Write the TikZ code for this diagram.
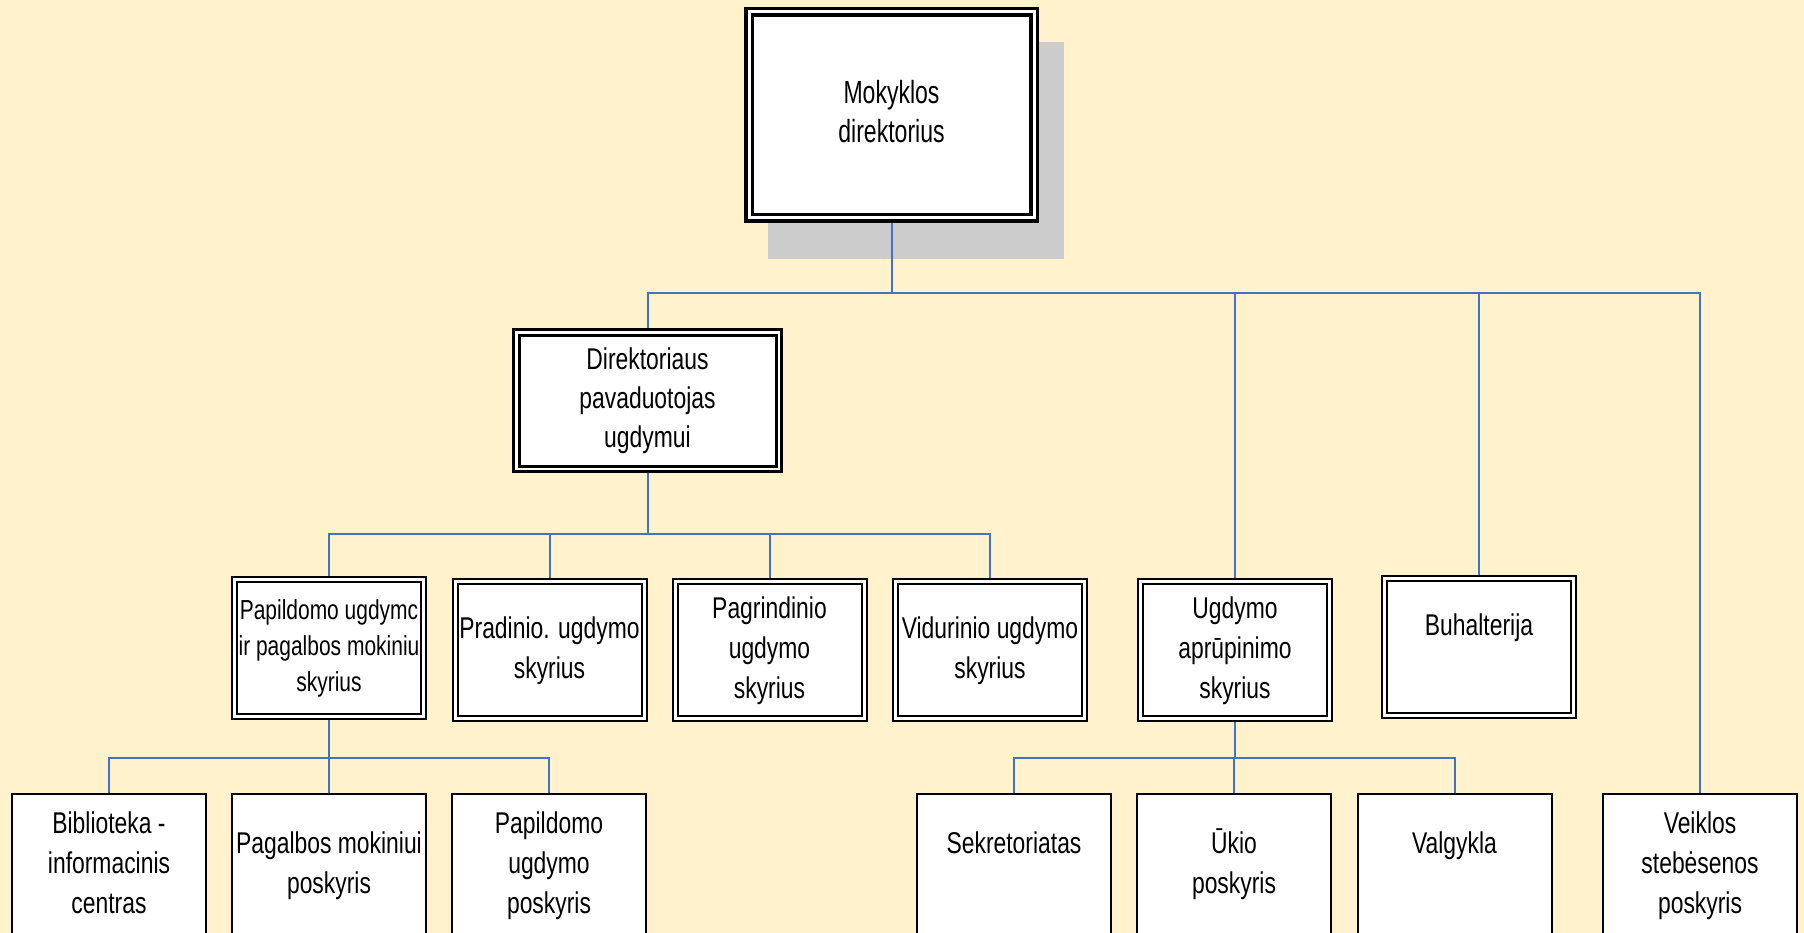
\documentclass[tikz,border=0pt]{standalone}
\usepackage{fontspec}
\setmainfont{Liberation Sans}[FakeStretch=0.763]
\newfontfamily\topfont{Liberation Sans}[FakeStretch=0.72]
\usetikzlibrary{backgrounds}
\definecolor{bgcol}{HTML}{FFF2CC}
\definecolor{shadowcol}{HTML}{CCCCCC}
\definecolor{conncol}{HTML}{4472C4}
\newcommand\boxlines[1]{\begin{tabular}{@{}c@{}}#1\end{tabular}}
\tikzset{
  orgbox/.style={draw=black, fill=white, inner sep=0pt, text=black},
  orgtop/.style={orgbox, line width=3.5pt, double=white, double distance=3pt,
    minimum width=285pt, minimum height=206pt, font=\topfont\fontsize{32}{39}\selectfont},
  orgsub/.style={orgbox, line width=3pt, double=white, double distance=2.5pt,
    minimum width=262.5pt, minimum height=136.5pt, font=\fontsize{30}{39}\selectfont},
  orgmid/.style={orgbox, line width=2pt, double=white, double distance=3pt,
    minimum width=189pt, minimum height=137pt, font=\fontsize{30}{40}\selectfont},
  orglow/.style={orgbox, line width=2pt,
    minimum width=194pt, minimum height=142pt, font=\fontsize{30}{40}\selectfont},
  conn/.style={draw=conncol, line width=2pt}
}
\begin{document}
\begin{tikzpicture}[x=1pt,y=-1pt]
\useasboundingbox (0,0) rectangle (1804,933);
\clip (0,0) rectangle (1804,933);

% top levels
\node[orgtop] (dir) at (891.5,115) {\boxlines{Mokyklos\\direktorius}};
\node[orgsub] (pav) at (647.5,400.5) {\boxlines{Direktoriaus\\pavaduotojas\\ugdymui}};

% third level
\node[orgmid, font=\fontsize{27.5}{36}\selectfont] (pap) at (329,648)
  {\boxlines{Papildomo ugdymc\\ir pagalbos mokiniu\\skyrius}};
\node[orgmid] (pra) at (549.5,650) {\boxlines{Pradinio. ugdymo\\skyrius}};
\node[orgmid] (pag) at (769.5,650) {\boxlines{Pagrindinio\\ugdymo\\skyrius}};
\node[orgmid] (vid) at (990,650) {\boxlines{Vidurinio ugdymo\\skyrius}};
\node[orgmid] (ugd) at (1235,650) {\boxlines{Ugdymo\\aprūpinimo\\skyrius}};
\node[orgmid] (buh) at (1479,647) {\boxlines{Buhalterija\\\mbox{}}};

% bottom level
\node[orglow] (bib) at (109,865) {\boxlines{Biblioteka -\\informacinis\\centras}};
\node[orglow] (pmo) at (329,865) {\boxlines{Pagalbos mokiniui\\poskyris}};
\node[orglow] (pug) at (549,865) {\boxlines{Papildomo\\ugdymo\\poskyris}};
\node[orglow] (sek) at (1014,865) {\boxlines{Sekretoriatas\\\mbox{}}};
\node[orglow] (uki) at (1234,865) {\boxlines{Ūkio\\poskyris}};
\node[orglow] (val) at (1454.5,865) {\boxlines{Valgykla\\\mbox{}}};
\node[orglow] (vei) at (1700,865) {\boxlines{Veiklos\\stebėsenos\\poskyris}};

\begin{scope}[on background layer]
  \fill[bgcol] (0,0) rectangle (1804,933);
  \fill[shadowcol] (768,42) rectangle (1064,259);
  \coordinate (b1) at (0,293);
  \coordinate (b2) at (0,534);
  \coordinate (b3) at (0,758);
  % level 1
  \draw[conn] (dir.south) |- (pav.north |- b1) -- (pav.north);
  \draw[conn] (dir.south) |- (ugd.north |- b1) -- (ugd.north);
  \draw[conn] (dir.south) |- (buh.north |- b1) -- (buh.north);
  \draw[conn] (dir.south) |- (vei.north |- b1) -- (vei.north);
  % level 2
  \draw[conn] (pav.south) |- (pap.north |- b2) -- (pap.north);
  \draw[conn] (pav.south) |- (pra.north |- b2) -- (pra.north);
  \draw[conn] (pav.south) |- (pag.north |- b2) -- (pag.north);
  \draw[conn] (pav.south) |- (vid.north |- b2) -- (vid.north);
  % level 3
  \draw[conn] (pap.south) |- (bib.north |- b3) -- (bib.north);
  \draw[conn] (pap.south) |- (pmo.north |- b3) -- (pmo.north);
  \draw[conn] (pap.south) |- (pug.north |- b3) -- (pug.north);
  \draw[conn] (ugd.south) |- (sek.north |- b3) -- (sek.north);
  \draw[conn] (ugd.south) |- (uki.north |- b3) -- (uki.north);
  \draw[conn] (ugd.south) |- (val.north |- b3) -- (val.north);
\end{scope}
\end{tikzpicture}
\end{document}
